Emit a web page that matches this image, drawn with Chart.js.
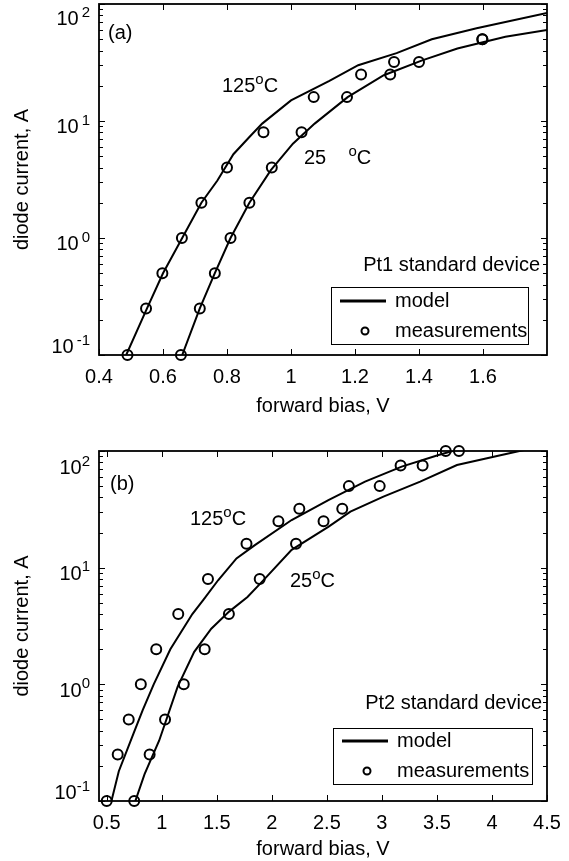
<!DOCTYPE html>
<html>
<head>
<meta charset="utf-8">
<script src="https://cdn.jsdelivr.net/npm/chart.js@4.4.0/dist/chart.umd.min.js"></script>
<style>
  html, body { margin: 0; padding: 0; background: #fff; }
  #wrap { position: relative; width: 569px; height: 861px; }
  canvas { position: absolute; left: 0; }
</style>
</head>
<body>
<div id="wrap">
  <canvas id="chartA" width="569" height="430" style="top:0"></canvas>
  <canvas id="chartB" width="569" height="431" style="top:430px"></canvas>
</div>
<script>
// panel (a): Pt1 standard device
const biasA125 = [0.489, 0.547, 0.598, 0.659, 0.72, 0.80, 0.914, 1.071, 1.219, 1.322, 1.598];
const currA125 = [0.1, 0.25, 0.5, 1, 2, 4, 8, 16, 25, 32, 50];
const biasA25 = [0.656, 0.715, 0.762, 0.811, 0.87, 0.94, 1.033, 1.175, 1.31, 1.40, 1.598];
const currA25 = [0.1, 0.25, 0.5, 1, 2, 4, 8, 16, 25, 32, 50];
const modelBiasA125 = [0.485, 0.55, 0.6, 0.66, 0.72, 0.77, 0.82, 0.87, 0.91, 1.0, 1.12, 1.21, 1.33, 1.44, 1.58, 1.8];
const modelCurrA125 = [0.1, 0.25, 0.5, 1, 2, 3.1, 5.2, 7.3, 9.5, 15, 22, 30, 38, 50, 62, 84];
const modelBiasA25 = [0.66, 0.715, 0.762, 0.811, 0.87, 0.937, 1.006, 1.074, 1.177, 1.29, 1.41, 1.52, 1.67, 1.8];
const modelCurrA25 = [0.1, 0.25, 0.5, 1, 2, 3.8, 6.4, 9.5, 16, 24.6, 33, 41.7, 52.5, 60];

// panel (b): Pt2 standard device
const biasB125 = [0.50, 0.60, 0.70, 0.81, 0.95, 1.15, 1.42, 1.77, 2.06, 2.25, 2.70, 3.17, 3.58];
const currB125 = [0.1, 0.25, 0.5, 1, 2, 4, 8, 16, 25, 32, 50, 75, 100];
const biasB25 = [0.75, 0.89, 1.03, 1.20, 1.39, 1.61, 1.89, 2.22, 2.47, 2.64, 2.98, 3.37, 3.70];
const currB25 = [0.1, 0.25, 0.5, 1, 2, 4, 8, 16, 25, 32, 50, 75, 100];
const modelBiasB125 = [0.543, 0.61, 0.744, 0.827, 0.927, 1.078, 1.278, 1.378, 1.512, 1.679, 1.846, 2.18, 2.514, 2.847, 3.18, 3.515, 3.72];
const modelCurrB125 = [0.1, 0.18, 0.38, 0.6, 1, 2, 4, 5.3, 7.8, 12, 15.6, 25.6, 38, 54.6, 73.4, 92.4, 105];
const modelBiasB25 = [0.76, 0.844, 0.977, 1.144, 1.295, 1.45, 1.612, 1.779, 1.912, 2.18, 2.513, 2.714, 3.014, 3.348, 3.682, 4.016, 4.25, 4.5];
const modelCurrB25 = [0.1, 0.17, 0.33, 0.95, 1.9, 3.0, 4.2, 5.6, 7.6, 14.2, 22.4, 30.2, 40.6, 54.6, 75.9, 89.4, 100, 112];

const xTicksA = [0.4, 0.6, 0.8, 1, 1.2, 1.4, 1.6];
const xTicksB = [0.5, 1, 1.5, 2, 2.5, 3, 3.5, 4, 4.5];
const yDecades = [0.1, 1, 10, 100];

const FONT = '"Liberation Sans", Arial, sans-serif';
const FS = 20;

function pts(xs, ys) {
  return xs.map((x, i) => ({ x: x, y: ys[i] }));
}

// draws text with superscript parts, baseline at y
function supText(ctx, parts, x, y, size, align, gap) {
  const big = size + 'px ' + FONT;
  const small = Math.round(size * 0.75) + 'px ' + FONT;
  gap = gap || 0;
  let w = 0;
  parts.forEach(([t, sup]) => { ctx.font = sup ? small : big; w += ctx.measureText(t).width + (sup ? gap : 0); });
  let cx = align === 'right' ? x - w : align === 'center' ? x - w / 2 : x;
  ctx.textAlign = 'left';
  ctx.textBaseline = 'alphabetic';
  parts.forEach(([t, sup]) => {
    ctx.font = sup ? small : big;
    if (sup) cx += gap;
    ctx.fillText(t, cx, sup ? y - size * 0.42 : y);
    cx += ctx.measureText(t).width;
  });
}

function makePanel(id, p) {
  const framePlugin = {
    id: 'frame_' + id,
    afterDraw(chart) {
      const { ctx, chartArea: a, scales } = chart;
      const sx = scales.x, sy = scales.y;
      ctx.save();
      ctx.fillStyle = '#000';
      ctx.strokeStyle = '#000';

      // inward ticks on the log axis, both sides
      ctx.lineWidth = 1;
      ctx.beginPath();
      for (let d = -1; d <= 2; d++) {
        for (let m = 1; m <= 9; m++) {
          const v = m * Math.pow(10, d);
          const py = Math.round(sy.getPixelForValue(v)) + 0.5;
          if (py < a.top - 1 || py > a.bottom + 1) continue;
          const len = m === 1 ? 6 : 4;
          ctx.moveTo(a.left, py); ctx.lineTo(a.left + len, py);
          ctx.moveTo(a.right, py); ctx.lineTo(a.right - len, py);
        }
      }
      p.xTicks.forEach(v => {
        const px = Math.round(sx.getPixelForValue(v)) + 0.5;
        ctx.moveTo(px, a.bottom); ctx.lineTo(px, a.bottom - 6);
        ctx.moveTo(px, a.top); ctx.lineTo(px, a.top + 6);
      });
      ctx.stroke();

      // frame
      ctx.lineWidth = 1.8;
      ctx.strokeRect(a.left, a.top, a.right - a.left, a.bottom - a.top);

      // y tick labels 10^n
      yDecades.forEach(v => {
        const e = Math.round(Math.log10(v));
        let cy = sy.getPixelForValue(v) + 5;
        if (v === 100) cy = a.top + p.topLabelShift;
        if (v === 0.1) cy = a.bottom - 9;
        supText(ctx, [['10', false], [String(e), true]], a.left - 9, cy + FS * 0.36, FS, 'right', p.expGap);
      });

      // x tick labels
      ctx.font = FS + 'px ' + FONT;
      ctx.textAlign = 'center';
      ctx.textBaseline = 'middle';
      p.xTicks.forEach(v => {
        ctx.fillText(String(v), sx.getPixelForValue(v), a.bottom + 22);
      });

      // axis titles
      ctx.fillText('forward bias, V', (a.left + a.right) / 2, p.xTitleY);
      ctx.save();
      ctx.translate(22, (a.top + a.bottom) / 2);
      ctx.rotate(-Math.PI / 2);
      ctx.fillText('diode current, A', 0, 0);
      ctx.restore();

      // annotations
      p.notes.forEach(n => supText(ctx, n.parts, n.x, n.y + FS * 0.36, FS, n.align || 'left'));

      // legend box
      const L = p.legend;
      ctx.fillStyle = '#fff';
      ctx.fillRect(L.x0, L.y0, L.x1 - L.x0, L.y1 - L.y0);
      ctx.lineWidth = 1;
      ctx.strokeStyle = '#000';
      ctx.strokeRect(L.x0 + 0.5, L.y0 + 0.5, L.x1 - L.x0, L.y1 - L.y0);
      ctx.lineWidth = 3;
      ctx.beginPath();
      ctx.moveTo(L.x0 + 9, L.lineY); ctx.lineTo(L.x0 + 55, L.lineY);
      ctx.stroke();
      ctx.lineWidth = 2;
      ctx.beginPath();
      ctx.arc(L.x0 + 34, L.circY, 3.5, 0, Math.PI * 2);
      ctx.stroke();
      ctx.fillStyle = '#000';
      ctx.font = FS + 'px ' + FONT;
      ctx.textAlign = 'left';
      ctx.textBaseline = 'middle';
      ctx.fillText('model', L.x0 + 64, L.lineY);
      ctx.fillText('measurements', L.x0 + 64, L.circY);
      ctx.restore();
    }
  };

  const lineDs = (data) => ({
    data: data, showLine: true, borderColor: '#000', borderWidth: 2,
    pointRadius: 0, tension: 0, clip: 0
  });
  const markDs = (data) => ({
    data: data, showLine: false, borderColor: '#000', backgroundColor: 'rgba(0,0,0,0)',
    pointRadius: 5, pointBorderWidth: 2, clip: 10
  });

  return new Chart(document.getElementById(id), {
    type: 'line',
    data: {
      datasets: [
        lineDs(pts(p.m125[0], p.m125[1])),
        lineDs(pts(p.m25[0], p.m25[1])),
        markDs(pts(p.d125[0], p.d125[1])),
        markDs(pts(p.d25[0], p.d25[1]))
      ]
    },
    options: {
      responsive: false,
      animation: false,
      devicePixelRatio: 1,
      layout: { autoPadding: false, padding: { left: 99, right: 22, top: p.padTop, bottom: 0 } },
      plugins: { legend: { display: false }, tooltip: { enabled: false } },
      scales: {
        x: {
          type: 'linear', min: p.xMin, max: p.xMax,
          ticks: { display: false }, grid: { display: false }, border: { display: false },
          afterFit: s => { s.height = p.xAxisH; }
        },
        y: {
          type: 'logarithmic', min: 0.1, max: 100,
          ticks: { display: false }, grid: { display: false }, border: { display: false },
          afterFit: s => { s.width = 0; }
        }
      }
    },
    plugins: [framePlugin]
  });
}

makePanel('chartA', {
  xMin: 0.4, xMax: 1.8, xTicks: xTicksA, padTop: 4, xAxisH: 75, xTitleY: 406, topLabelShift: 14, expGap: 3,
  d125: [biasA125, currA125], d25: [biasA25, currA25],
  m125: [modelBiasA125, modelCurrA125], m25: [modelBiasA25, modelCurrA25],
  notes: [
    { parts: [['(a)', false]], x: 108, y: 32 },
    { parts: [['125', false], ['o', true], ['C', false]], x: 222, y: 85 },
    { parts: [['25    ', false], ['o', true], ['C', false]], x: 304, y: 157 },
    { parts: [['Pt1 standard device', false]], x: 540, y: 264, align: 'right' }
  ],
  legend: { x0: 331, y0: 287, x1: 528, y1: 344, lineY: 301, circY: 331 }
});

makePanel('chartB', {
  xMin: 0.43, xMax: 4.5, xTicks: xTicksB, padTop: 21, xAxisH: 60, xTitleY: 419, topLabelShift: 16, expGap: 0,
  d125: [biasB125, currB125], d25: [biasB25, currB25],
  m125: [modelBiasB125, modelCurrB125], m25: [modelBiasB25, modelCurrB25],
  notes: [
    { parts: [['(b)', false]], x: 110, y: 53 },
    { parts: [['125', false], ['o', true], ['C', false]], x: 190, y: 88 },
    { parts: [['25', false], ['o', true], ['C', false]], x: 290, y: 150 },
    { parts: [['Pt2 standard device', false]], x: 542, y: 272, align: 'right' }
  ],
  legend: { x0: 333, y0: 298, x1: 532, y1: 354, lineY: 311, circY: 341 }
});
</script>
</body>
</html>
